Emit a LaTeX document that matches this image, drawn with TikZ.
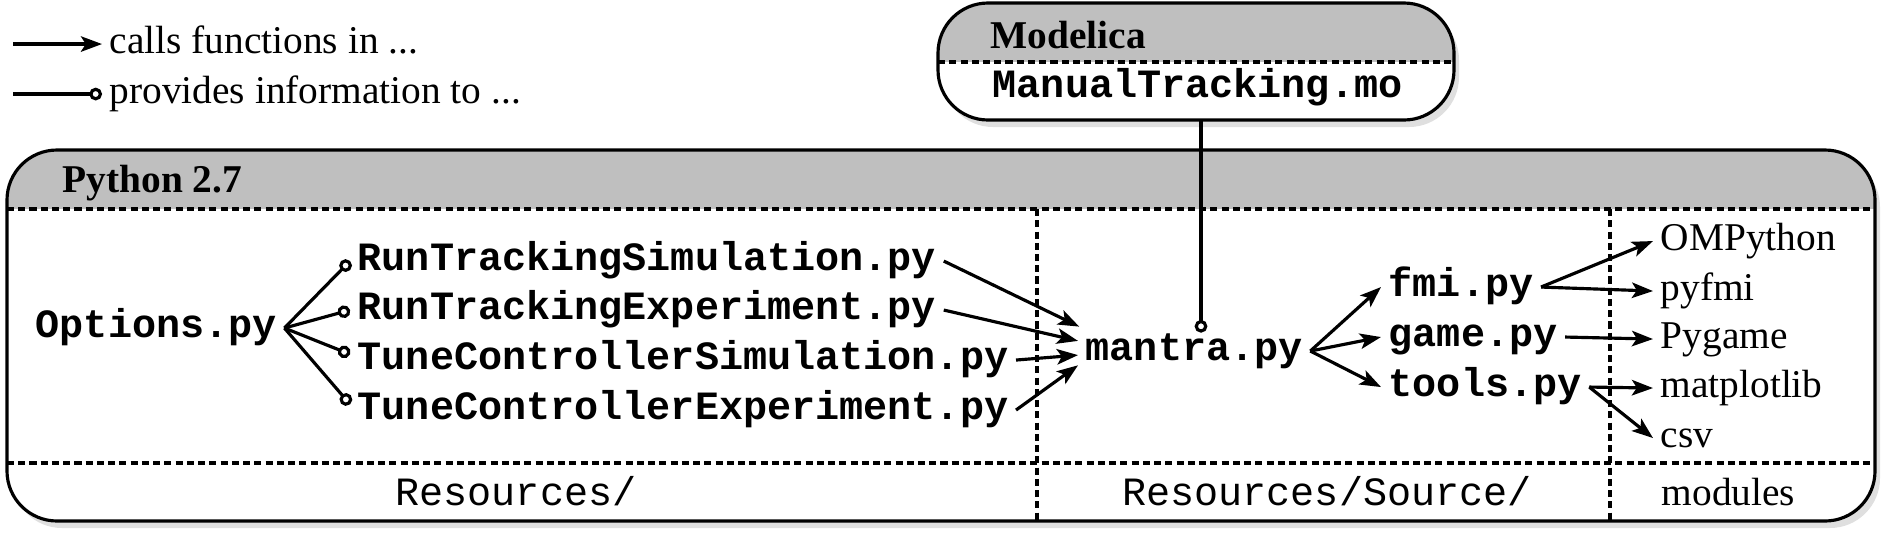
\documentclass[tikz,border=0pt]{standalone}
\usepackage{fontspec}
\setmainfont{Liberation Serif}
\setmonofont[Scale=1.02]{Liberation Mono}
\usetikzlibrary{arrows.meta,shadows}
\definecolor{headgray}{gray}{0.75}
\newcommand{\figfont}{\fontsize{11.2}{13.4}\selectfont}

\begin{document}
\begin{tikzpicture}[
	every node/.style={inner sep=2pt, text height=7.3pt, text depth=2.2pt, font=\figfont},
	pyfile/.style={font=\figfont\ttfamily\bfseries},
	dirname/.style={font=\figfont\ttfamily},
	title/.style={font=\figfont\bfseries},
	frame/.style={line width=0.9pt, rounded corners=0.5cm},
	boxshadow/.style={drop shadow={shadow xshift=0.5mm, shadow yshift=-0.7mm, opacity=0.25}},
	dotsep/.style={line width=0.9pt, dash pattern=on 2pt off 1.2pt},
	callarrow/.style={line width=0.9pt, -{Stealth[length=6pt, width=4.4pt, inset=1.4pt]}},
	infoline/.style={line width=0.9pt, -{Circle[open, length=3.6pt, width=3.6pt]}}]
	\useasboundingbox (0,0) rectangle (18.94,-5.42);

	% legend
	\node[anchor=base west] (legcalls) at (1.02,-0.53) {calls functions in ...};
	\node[anchor=base west] (leginfo) at (1.02,-1.03) {provides information to ...};
	\coordinate (legA) at ([xshift=-0.89cm]legcalls.west);
	\coordinate (legB) at ([xshift=-0.89cm]leginfo.west);
	\draw[callarrow] (legA) -- (legcalls.west);
	\draw[infoline] (legB) -- (leginfo.west);

	% Python frame
	\path[frame, fill=white, boxshadow] (0.07,-1.50) rectangle (18.75,-5.21);
	\begin{scope}
		\clip[rounded corners=0.5cm] (0.07,-1.50) rectangle (18.75,-5.21);
		\fill[headgray] (0.07,-1.50) rectangle (18.75,-2.09);
	\end{scope}
	\draw[dotsep] (0.07,-2.09) -- (18.75,-2.09);
	\draw[dotsep] (0.07,-4.63) -- (18.75,-4.63);
	\draw[dotsep] (10.37,-2.09) -- (10.37,-5.21);
	\draw[dotsep] (16.10,-2.09) -- (16.10,-5.21);
	\draw[frame] (0.07,-1.50) rectangle (18.75,-5.21);
	\node[title, anchor=base west] (python) at (0.55,-1.92) {Python 2.7};

	% Modelica box
	\path[frame, fill=white, boxshadow] (9.38,-0.03) rectangle (14.54,-1.20);
	\begin{scope}
		\clip[rounded corners=0.5cm] (9.38,-0.03) rectangle (14.54,-1.20);
		\fill[headgray] (9.38,-0.03) rectangle (14.54,-0.62);
	\end{scope}
	\draw[dotsep] (9.38,-0.62) -- (14.54,-0.62);
	\draw[frame] (9.38,-0.03) rectangle (14.54,-1.20);
	\node[title, anchor=base west] (modelica) at (9.83,-0.48) {Modelica};
	\node[pyfile, anchor=base west] (mofile) at (9.85,-0.97) {ManualTracking.mo};
	\coordinate (mo) at (12.01,-1.20);

	% Resources/
	\node[pyfile, anchor=base west] (opts) at (0.28,-3.37) {Options.py};
	\node[pyfile, anchor=base west] (rts) at (3.50,-2.70) {RunTrackingSimulation.py};
	\node[pyfile, anchor=base west] (rte) at (3.50,-3.19) {RunTrackingExperiment.py};
	\node[pyfile, anchor=base west] (tcs) at (3.50,-3.69) {TuneControllerSimulation.py};
	\node[pyfile, anchor=base west] (tce) at (3.50,-4.19) {TuneControllerExperiment.py};

	% Resources/Source/
	\node[pyfile, anchor=base west] (mantra) at (10.78,-3.60) {mantra.py};
	\node[pyfile, anchor=base west] (fmi) at (13.81,-2.96) {fmi.py};
	\node[pyfile, anchor=base west] (game) at (13.81,-3.46) {game.py};
	\node[pyfile, anchor=base west] (tools) at (13.81,-3.96) {tools.py};

	% modules
	\node[anchor=base west] (omp) at (16.53,-2.50) {OMPython};
	\node[anchor=base west] (pyfmi) at (16.53,-3.00) {pyfmi};
	\node[anchor=base west] (pygame) at (16.53,-3.48) {Pygame};
	\node[anchor=base west] (mpl) at (16.53,-3.97) {matplotlib};
	\node[anchor=base west] (csv) at (16.53,-4.47) {csv};

	% column labels
	\node[dirname, anchor=base] (resdir) at (5.16,-5.05) {Resources/};
	\node[dirname, anchor=base] (srcdir) at (13.27,-5.05) {Resources/Source/};
	\node[anchor=base west] (moddir) at (16.54,-5.05) {modules};

	% connections
	\foreach \s in {rts,rte}
		\draw[infoline] (opts.east) -- (\s.west);
	\foreach \s in {tcs,tce}
		\draw[infoline] (opts.east) -- (\s.179);
	\draw[callarrow] (rts.east) -- (mantra.168);
	\draw[callarrow] (rte.east) -- (mantra.175);
	\draw[callarrow] (tcs.east) -- (mantra.182);
	\draw[callarrow] (tce.east) -- (mantra.187);
	\draw[infoline] (mo) -- ([yshift=-0.06cm]mo |- mantra.north);
	\foreach \s in {fmi,game,tools}
		\draw[callarrow] (mantra.east) -- (\s.west);
	\draw[callarrow] (fmi.east) -- (omp.west);
	\draw[callarrow] (fmi.east) -- (pyfmi.west);
	\draw[callarrow] (game.east) -- (pygame.west);
	\draw[callarrow] (tools.east) -- (mpl.west);
	\draw[callarrow] (tools.east) -- (csv.west);
\end{tikzpicture}
\end{document}
